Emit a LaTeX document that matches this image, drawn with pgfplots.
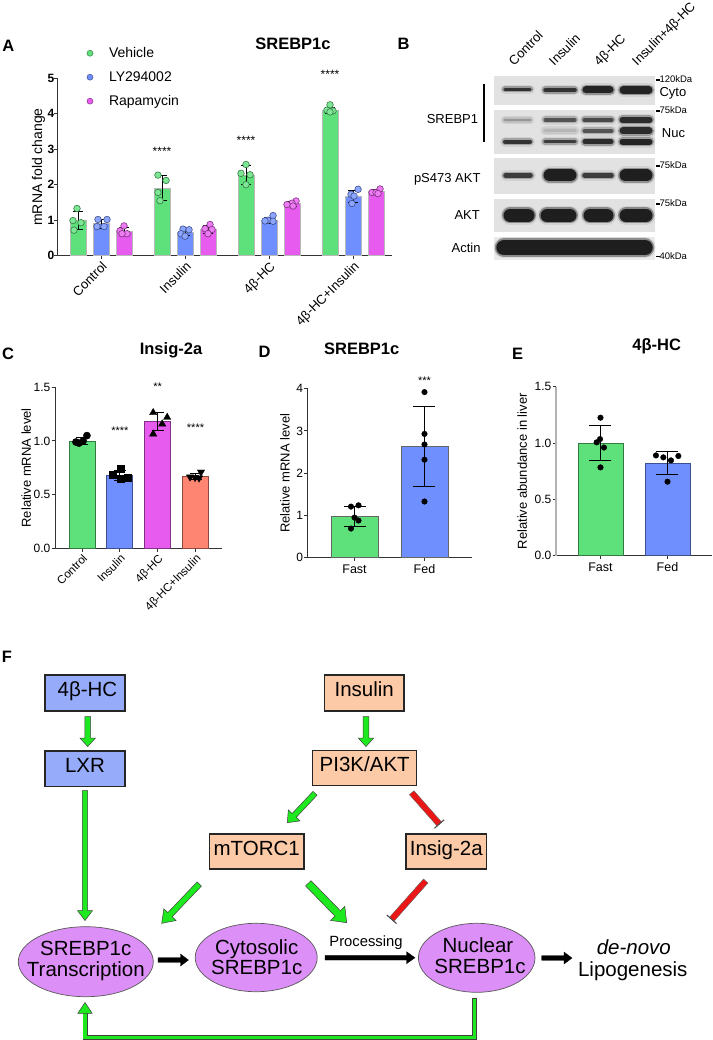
\documentclass[border=0pt]{standalone}
\usepackage{fontspec}
\setmainfont{Liberation Sans}
\usepackage{pgfplots}
\pgfplotsset{compat=1.18}
\usetikzlibrary{calc}
\newcommand{\fs}[1]{\fontsize{#1}{#1}\selectfont}
\definecolor{cgreen}{RGB}{94,224,122}
\definecolor{cblue}{RGB}{111,143,255}
\definecolor{cmag}{RGB}{232,91,239}
\definecolor{csalmon}{RGB}{255,133,115}
\definecolor{boxblue}{RGB}{150,172,250}
\definecolor{boxpeach}{RGB}{252,202,166}
\definecolor{ellv}{RGB}{221,143,248}
\definecolor{agreen}{RGB}{30,232,30}
\definecolor{ared}{RGB}{235,22,22}
\definecolor{blotbg}{RGB}{226,226,226}
\definecolor{bandc}{RGB}{25,25,25}
\pgfplotsset{
 barbase/.style={scale only axis, anchor=south west, axis x line=bottom, axis y line=left,
   axis line style={-, line width=1pt, black!80}, tick align=outside, major tick length=3.5pt,
   every tick/.append style={line width=1pt, black!80}, clip=false,
   yticklabel style={inner sep=1pt},
   /pgf/number format/assume math mode=true},
 errs/.style={error bars/.cd, y dir=both, y explicit, error bar style={line width=0.9pt, black},
   error mark options={rotate=90, mark size=#1, line width=0.9pt, black}},
}
% x1 x2 y h core-opacity blur-opacity
\newcommand{\band}[6]{%
 \addplot[bandc, line width=#4pt+6pt, opacity=0.08, line cap=round, forget plot] coordinates {(#1,#3) (#2,#3)};
 \addplot[bandc, line width=#4pt+3pt, opacity=#6, line cap=round, forget plot] coordinates {(#1,#3) (#2,#3)};
 \addplot[bandc, line width=#4pt, opacity=#5, line cap=round, forget plot] coordinates {(#1,#3) (#2,#3)};
}
% block arrow: [style]{start}{end}{half shaft}{half head}{head length}
\newcommand{\barrow}[6][fill=agreen, draw=black!75, line width=0.5pt]{%
 \coordinate (bS) at (#2); \coordinate (bE) at (#3);
 \coordinate (bH) at ($(bE)!#6!(bS)$);
 \filldraw[#1] ($(bS)!#4!90:(bE)$) -- ($(bH)!#4!90:(bE)$) -- ($(bH)!#5!90:(bE)$) -- (bE)
   -- ($(bH)!#5!-90:(bE)$) -- ($(bH)!#4!-90:(bE)$) -- ($(bS)!#4!-90:(bE)$) -- cycle;
}
\newcommand{\inhib}[2]{%
 \coordinate (iS) at (#1); \coordinate (iE) at (#2);
 \filldraw[fill=ared, draw=black!60, line width=0.4pt] ($(iS)!3pt!90:(iE)$) -- ($(iE)!3pt!-90:(iS)$)
   -- ($(iE)!3pt!90:(iS)$) -- ($(iS)!3pt!-90:(iE)$) -- cycle;
 \draw[black!70, line width=1.1pt] ($(iE)!6.5pt!90:(iS)$) -- ($(iE)!6.5pt!-90:(iS)$);
}
\newcommand{\kda}[2]{\node[anchor=base west, inner sep=0pt, font=\fs{9.5}] at (656,#1) {\rule[0.22em]{0.35em}{0.16em}#2};}
\begin{document}
\begin{tikzpicture}
\path[use as bounding box] (0pt,0pt) rectangle (712pt,-1040pt);

%%%%%%%%%%%%%%%% Panel A
\begin{axis}[barbase, at={(57pt,-255.7pt)}, width=335pt, height=177.5pt,
  xmin=-0.524, xmax=3.464, ymin=0, ymax=5, ytick={0,1,2,3,4,5},
  xtick={0,1,2,3}, xticklabels={Control,Insulin,4β-HC,4β-HC+Insulin},
  xticklabel style={rotate=45, anchor=north east, font=\fs{13}, inner sep=1pt},
  yticklabel style={font=\bfseries\fs{12}, xshift=2pt},
  ylabel={mRNA fold change}, ylabel style={font=\fs{14}}, ylabel shift=-2pt,
  legend style={at={(0.08,1.197)}, anchor=north west, draw=none, fill=none, font=\fs{14}, row sep=8.5pt, column sep=14pt},
  legend cell align=left]
\addlegendimage{only marks, mark=*, mark size=3pt, mark options={fill=cgreen, draw=cgreen!60!black, line width=0.5pt}}
\addlegendimage{only marks, mark=*, mark size=3pt, mark options={fill=cblue, draw=cblue!60!black, line width=0.5pt}}
\addlegendimage{only marks, mark=*, mark size=3pt, mark options={fill=cmag, draw=cmag!60!black, line width=0.5pt}}
\legend{Vehicle,LY294002,Rapamycin}
\addplot[ybar, bar width=16pt, bar shift=0pt, fill=cgreen, draw=gray!55, line width=1pt, errs=5pt]
 coordinates {(-0.274,1.0) +- (0,0.25) (0.726,1.9) +- (0,0.35) (1.726,2.27) +- (0,0.26) (2.726,4.1) +- (0,0.09)};
\addplot[ybar, bar width=16pt, bar shift=0pt, fill=cblue, draw=gray!55, line width=1pt, errs=5pt]
 coordinates {(0,0.9) +- (0,0.12) (1,0.65) +- (0,0.09) (2,1.0) +- (0,0.08) (3,1.67) +- (0,0.17)};
\addplot[ybar, bar width=16pt, bar shift=0pt, fill=cmag, draw=gray!55, line width=1pt, errs=5pt]
 coordinates {(0.274,0.68) +- (0,0.11) (1.274,0.75) +- (0,0.11) (2.274,1.47) +- (0,0.07) (3.274,1.8) +- (0,0.08)};
\addplot[only marks, mark=*, mark size=3.3pt, mark options={fill=cgreen!80!white, draw=cgreen!55!black, line width=0.6pt}]
 coordinates {(-0.286,1.33) (-0.334,0.99) (-0.238,0.93) (-0.322,0.72)
  (0.678,2.27) (0.774,2.12) (0.678,1.78) (0.702,1.55)
  (1.726,2.57) (1.666,2.32) (1.774,2.28) (1.726,2.0)
  (2.726,4.25) (2.690,4.1) (2.762,4.08) (2.726,4.05)};
\addplot[only marks, mark=*, mark size=3.3pt, mark options={fill=cblue!80!white, draw=cblue!55!black, line width=0.6pt}]
 coordinates {(-0.036,1.02) (0.071,1.02) (-0.048,0.82) (0.036,0.82)
  (0.976,0.75) (1.048,0.73) (0.952,0.62) (1.0,0.55)
  (2.048,1.13) (1.988,1.0) (2.048,0.97) (1.952,0.98)
  (3.060,1.87) (2.976,1.73) (3.012,1.68) (2.988,1.47)};
\addplot[only marks, mark=*, mark size=3.3pt, mark options={fill=cmag!80!white, draw=cmag!55!black, line width=0.6pt}]
 coordinates {(0.274,0.84) (0.226,0.70) (0.310,0.62) (0.250,0.62)
  (1.298,0.88) (1.238,0.76) (1.322,0.74) (1.274,0.62)
  (2.322,1.54) (2.274,1.48) (2.214,1.44) (2.286,1.40)
  (3.322,1.88) (3.226,1.78) (3.274,1.78) (3.298,1.75)};
\node[font=\fs{12}] at (axis cs:0.726,2.93) {****};
\node[font=\fs{12}] at (axis cs:1.726,3.24) {****};
\node[font=\fs{12}] at (axis cs:2.726,5.11) {****};
\end{axis}

%%%%%%%%%%%%%%%% Panel B (blot)
\begin{axis}[scale only axis, hide axis, at={(494pt,-259pt)}, anchor=south west, width=161pt, height=183pt,
  xmin=494, xmax=655, ymin=-259, ymax=-76, clip=false]
\fill[blotbg] (axis cs:494,-76) rectangle (axis cs:655,-105);
\fill[blotbg] (axis cs:494,-110) rectangle (axis cs:655,-154);
\fill[blotbg] (axis cs:494,-158.5) rectangle (axis cs:655,-194);
\fill[blotbg] (axis cs:494,-199) rectangle (axis cs:655,-232);
\fill[blotbg!70!white] (axis cs:494,-237) rectangle (axis cs:655,-260);
% Cyto
\band{504.8}{530.2}{-89.5}{3}{0.8}{0.3}
\band{545.5}{574.5}{-90}{4.5}{0.8}{0.3}
\band{586}{610}{-90}{7}{0.9}{0.35}
\band{623.3}{648.7}{-90}{7.5}{0.9}{0.35}
% Nuc top
\band{505}{530}{-120}{2.5}{0.25}{0.1}
\band{545.5}{574.5}{-120}{4}{0.6}{0.2}
\band{584.5}{611.5}{-120}{4}{0.65}{0.25}
\band{622.5}{649.5}{-120}{6}{0.85}{0.3}
% Nuc mid
\band{545}{575}{-131}{3}{0.1}{0.05}
\band{584.5}{611.5}{-131}{4}{0.6}{0.2}
\band{623}{649}{-131}{7}{0.85}{0.3}
% Nuc bottom
\band{505}{530}{-141.7}{4}{0.8}{0.25}
\band{545}{575}{-141.7}{3.5}{0.75}{0.25}
\band{585}{611}{-141.7}{5}{0.85}{0.3}
\band{622.5}{649.5}{-141.7}{6}{0.9}{0.3}
% pS473
\band{505.5}{530.5}{-175.5}{4.5}{0.75}{0.25}
\band{549.5}{570.5}{-175.5}{12}{0.95}{0.35}
\band{584.5}{611.5}{-175.5}{4.5}{0.75}{0.25}
\band{625.5}{646.5}{-175.5}{12}{0.95}{0.35}
% AKT
\band{510}{528}{-215.5}{13}{0.95}{0.4}
\band{547}{570}{-215.5}{13}{0.95}{0.4}
\band{590}{607}{-215.5}{13}{0.95}{0.4}
\band{626}{646}{-215.5}{13}{0.95}{0.4}
% Actin
\band{504}{645}{-247.7}{15.5}{0.95}{0.4}
\end{axis}

%%%%%%%%%%%%%%%% Panel C
\begin{axis}[barbase, at={(55pt,-548.3pt)}, width=167pt, height=161pt,
  xmin=-0.714, xmax=3.70, ymin=0, ymax=1.5, ytick={0,0.5,1,1.5},
  yticklabel style={/pgf/number format/.cd, fixed, fixed zerofill, precision=1, /tikz/.cd, font=\fs{12}},
  xtick={0,1,2,3}, xticklabels={Control,Insulin,4β-HC,4β-HC+Insulin},
  xticklabel style={rotate=45, anchor=north east, font=\fs{11.5}, inner sep=1pt},
  ylabel={Relative mRNA level}, ylabel style={font=\fs{13}}, ylabel shift=-2pt]
\addplot[ybar, bar width=26pt, bar shift=0pt, fill=cgreen, draw=cgreen!55!black, line width=0.8pt, errs=6pt]
 coordinates {(0,1.0) +- (0,0.03)};
\addplot[ybar, bar width=26pt, bar shift=0pt, fill=cblue, draw=cblue!55!black, line width=0.8pt, errs=6pt]
 coordinates {(1,0.68) +- (0,0.045)};
\addplot[ybar, bar width=26pt, bar shift=0pt, fill=cmag, draw=cmag!55!black, line width=0.8pt, errs=6pt]
 coordinates {(2,1.18) +- (0,0.085)};
\addplot[ybar, bar width=26pt, bar shift=0pt, fill=csalmon, draw=csalmon!55!black, line width=0.8pt, errs=6pt]
 coordinates {(3,0.67) +- (0,0.025)};
\addplot[only marks, mark=*, mark size=3.6pt, black] coordinates {(-0.16,0.99) (-0.08,0.98) (0.03,1.0) (0.13,1.05)};
\addplot[only marks, mark=square*, mark size=3.4pt, black] coordinates {(1.013,0.739) (0.82,0.689) (1.03,0.646) (1.216,0.658)};
\addplot[only marks, mark=triangle*, mark size=4.2pt, black] coordinates {(1.881,1.264) (2.251,1.22) (2.119,1.158) (1.881,1.065)};
\addplot[only marks, mark=triangle*, mark size=4.2pt, black, mark options={rotate=180}] coordinates {(2.855,0.665) (2.987,0.66) (3.145,0.71) (3.093,0.655)};
\node[font=\fs{11}] at (axis cs:1,1.10) {****};
\node[font=\fs{11}] at (axis cs:2,1.51) {**};
\node[font=\fs{11}] at (axis cs:3,1.125) {****};
\end{axis}

%%%%%%%%%%%%%%%% Panel D
\begin{axis}[barbase, at={(307.7pt,-557.7pt)}, width=164.3pt, height=169pt,
  xmin=-0.669, xmax=1.679, ymin=0, ymax=4, ytick={0,1,2,3,4},
  yticklabel style={font=\fs{12}},
  xtick={0,1}, xticklabels={Fast,Fed}, xticklabel style={font=\fs{12.5}},
  ylabel={Relative mRNA level}, ylabel style={font=\fs{13}}, ylabel shift=2pt]
\addplot[ybar, bar width=47pt, bar shift=0pt, fill=cgreen, draw=gray!80!black, line width=0.8pt, errs=11pt]
 coordinates {(0,0.98) +- (0,0.235)};
\addplot[ybar, bar width=47pt, bar shift=0pt, fill=cblue, draw=gray!80!black, line width=0.8pt, errs=11pt]
 coordinates {(1,2.63) +- (0,0.945)};
\addplot[only marks, mark=*, mark size=2.8pt, black] coordinates {(-0.05,1.21) (0.057,1.24) (0,0.95) (0.057,0.88) (-0.05,0.69)
  (1,3.92) (1,2.93) (1,2.68) (1,2.32) (1,1.33)};
\node[font=\fs{11}] at (axis cs:1,4.2) {***};
\end{axis}

%%%%%%%%%%%%%%%% Panel E
\begin{axis}[barbase, at={(556pt,-555.7pt)}, width=155.5pt, height=169pt,
  xmin=-0.664, xmax=1.657, ymin=0, ymax=1.5, ytick={0,0.5,1,1.5},
  y axis line style={black!30, line width=2pt},
  yticklabel style={/pgf/number format/.cd, fixed, fixed zerofill, precision=1, /tikz/.cd, font=\fs{12}},
  xtick={0,1}, xticklabels={Fast,Fed}, xticklabel style={font=\fs{12.5}},
  ylabel={Relative abundance in liver}, ylabel style={font=\fs{13}}, ylabel shift=3pt]
\addplot[ybar, bar width=45pt, bar shift=0pt, fill=cgreen, draw=cgreen!55!black, line width=0.8pt, errs=11pt]
 coordinates {(0,1.0) +- (0,0.155)};
\addplot[ybar, bar width=45pt, bar shift=0pt, fill=cblue, draw=cblue!55!black, line width=0.8pt, errs=11pt]
 coordinates {(1,0.823) +- (0,0.098)};
\addplot[only marks, mark=*, mark size=2.8pt, black] coordinates {(0,1.225) (-0.007,1.035) (-0.057,1.006) (0.052,0.96) (0,0.784)
  (0.828,0.89) (0.938,0.873) (1.162,0.885) (1.052,0.846) (1,0.657)};
\end{axis}

%%%%%%%%%%%%%%%% Labels and diagram (pixel coordinates)
\begin{scope}[x=1pt,y=-1pt]
% panel letters and titles
\node[anchor=base, inner sep=0, font=\bfseries\fs{16.5}] at (8.3,51.9) {A};
\node[anchor=base, inner sep=0, font=\bfseries\fs{16.5}] at (293,49.5) {SREBP1c};
\node[anchor=base, inner sep=0, font=\bfseries\fs{16.5}] at (403.7,50) {B};
\node[anchor=base, inner sep=0, font=\bfseries\fs{16.5}] at (8,359.3) {C};
\node[anchor=base, inner sep=0, font=\bfseries\fs{16.5}] at (171,354) {Insig-2a};
\node[anchor=base, inner sep=0, font=\bfseries\fs{16.5}] at (264.7,357.3) {D};
\node[anchor=base, inner sep=0, font=\bfseries\fs{16.5}] at (361.7,354) {SREBP1c};
\node[anchor=base, inner sep=0, font=\bfseries\fs{16.5}] at (517.5,359.3) {E};
\node[anchor=base, inner sep=0, font=\bfseries\fs{16.5}] at (656.7,350.7) {4β-HC};
\node[anchor=base, inner sep=0, font=\bfseries\fs{16.5}] at (7,662.7) {F};

% blot labels
\foreach \x/\t in {514/Control,554.3/Insulin,599.3/4β-HC,637.3/Insulin+4β-HC}
  \node[anchor=base west, inner sep=0, rotate=45, font=\fs{13}] at (\x,66.5) {\t};
\node[anchor=base east, inner sep=0, font=\fs{13}] at (478.3,124) {SREBP1};
\draw[line width=1.3pt] (484,84) -- (484,142);
\node[anchor=base east, inner sep=0, font=\fs{13}] at (480.7,183) {pS473 AKT};
\node[anchor=base east, inner sep=0, font=\fs{13}] at (480,219.7) {AKT};
\node[anchor=base east, inner sep=0, font=\fs{13}] at (480.7,253) {Actin};
\node[anchor=base west, inner sep=0, font=\fs{13}] at (659.3,96.4) {Cyto};
\node[anchor=base west, inner sep=0, font=\fs{13}] at (661.7,138) {Nuc};
\kda{82.7}{120kDa}
\kda{114}{75kDa}
\kda{169}{75kDa}
\kda{206.6}{75kDa}
\kda{259.4}{40kDa}

% diagram boxes
\tikzset{bx/.style={draw=black!85, line width=1.2pt, inner sep=0pt, font=\fs{20.5}, text height=0.716em, text depth=0pt}}
\node[bx, fill=boxblue, minimum width=80pt, minimum height=36pt] at (85,693) {\hspace{5pt}4β-HC};
\node[bx, fill=boxblue, minimum width=80pt, minimum height=35.7pt] at (85,768.8) {LXR};
\node[bx, fill=boxpeach, minimum width=79.7pt, minimum height=36pt] at (364.2,693) {Insulin};
\node[bx, fill=boxpeach, minimum width=104pt, minimum height=35pt] at (364.7,768.2) {PI3K/AKT};
\node[bx, fill=boxpeach, minimum width=94.7pt, minimum height=35pt] at (256.7,851.5) {mTORC1};
\node[bx, fill=boxpeach, minimum width=80.7pt, minimum height=35pt] at (446.3,851.5) {Insig-2a};

% ellipses
\filldraw[fill=ellv, draw=black!65, line width=0.7pt] (85.8,961.7) ellipse (67.5 and 35);
\filldraw[fill=ellv, draw=black!65, line width=0.7pt] (256.2,957.5) ellipse (61 and 34.2);
\filldraw[fill=ellv, draw=black!65, line width=0.7pt] (476.7,957.8) ellipse (58.3 and 34.5);
\node[anchor=base, inner sep=0, font=\fs{20.5}] at (85.8,955.7) {SREBP1c};
\node[anchor=base, inner sep=0, font=\fs{20.5}] at (85.8,976) {Transcription};
\node[anchor=base, inner sep=0, font=\fs{20.5}] at (256.7,954) {Cytosolic};
\node[anchor=base, inner sep=0, font=\fs{20.5}] at (256.7,974) {SREBP1c};
\node[anchor=base, inner sep=0, font=\fs{20.5}] at (478,952.7) {Nuclear};
\node[anchor=base, inner sep=0, font=\fs{20.5}] at (480,973.3) {SREBP1c};
\node[anchor=base, inner sep=0, font=\fs{14.8}] at (366,946.7) {Processing};
\node[anchor=base, inner sep=0, font=\fs{20.5}] at (633.8,954) {\itshape de-novo};
\node[anchor=base, inner sep=0, font=\fs{20.5}] at (632.8,976) {Lipogenesis};

% green arrows
\barrow{87.7,716.7}{87.7,746.5}{2.8pt}{7.8pt}{8.5pt}
\barrow{366,716.7}{366,746.5}{2.8pt}{7.8pt}{8.5pt}
\barrow{85,790.7}{85,920.5}{2.7pt}{7.6pt}{10pt}
\barrow{315,793.3}{287.3,822.7}{2.8pt}{8pt}{10pt}
\barrow{199.3,884}{161.7,923.3}{3pt}{8.5pt}{12pt}
\barrow{308.3,883.3}{346.7,922.7}{3.8pt}{10pt}{13pt}
% red inhibitions
\inhib{411.7,792.7}{439.3,824}
\inhib{425.7,881}{391.7,919.3}
% black arrows
\barrow[fill=black, draw=black, line width=0.3pt]{158,960}{188.5,960}{2.3pt}{6pt}{8pt}
\barrow[fill=black, draw=black, line width=0.3pt]{325,957.7}{415,957.7}{2.3pt}{6pt}{8.5pt}
\barrow[fill=black, draw=black, line width=0.3pt]{541.7,958}{572,958}{2.3pt}{6pt}{8pt}
% feedback loop
\draw[black!75, line width=5pt, line join=miter] (474.3,998) -- (474.3,1037.3) -- (85,1037.3) -- (85,1012.5);
\draw[agreen, line width=3.2pt, line join=miter] (474.3,998.8) -- (474.3,1037.3) -- (85,1037.3) -- (85,1011.5);
\filldraw[fill=agreen, draw=black!75, line width=0.5pt] (85,1002.5) -- (92.2,1013.3) -- (77.8,1013.3) -- cycle;
\end{scope}
\end{tikzpicture}
\end{document}
